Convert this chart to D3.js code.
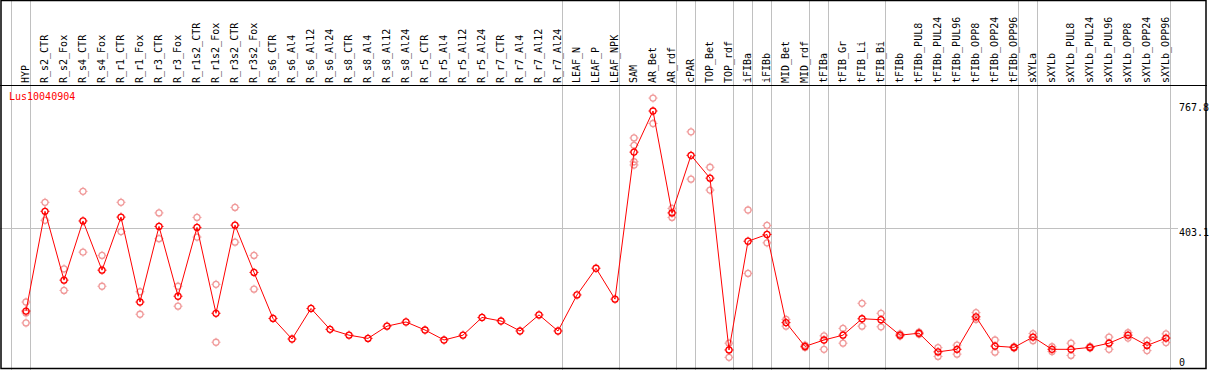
<!DOCTYPE html>
<html>
<head>
  <meta charset="utf-8">
  <title></title>
  <style type="text/css">
    body { margin: 0; background: #fff; }
    text { font-family: "DejaVu Sans Mono", monospace; font-size: 10px; }
  </style>
</head>
<body>
  <div id="my_dataviz"></div>
<script src="https://d3js.org/d3.v7.min.js"></script>
<script type="text/javascript">

  var gene = "Lus10040904";

  var samples = ["HYP","R_s2_CTR","R_s2_Fox","R_s4_CTR","R_s4_Fox","R_r1_CTR","R_r1_Fox","R_r3_CTR","R_r3_Fox",
    "R_r1s2_CTR","R_r1s2_Fox","R_r3s2_CTR","R_r3s2_Fox","R_s6_CTR","R_s6_Al4","R_s6_Al12","R_s6_Al24",
    "R_s8_CTR","R_s8_Al4","R_s8_Al12","R_s8_Al24","R_r5_CTR","R_r5_Al4","R_r5_Al12","R_r5_Al24",
    "R_r7_CTR","R_r7_Al4","R_r7_Al12","R_r7_Al24","LEAF_N","LEAF_P","LEAF_NPK","SAM","AR_Bet","AR_rdf",
    "cPAR","TOP_Bet","TOP_rdf","iFIBa","iFIBb","MID_Bet","MID_rdf","tFIBa","tFIB_Gr","tFIB_Li","tFIB_Bi",
    "tFIBb","tFIBb_PUL8","tFIBb_PUL24","tFIBb_PUL96","tFIBb_OPP8","tFIBb_OPP24","tFIBb_OPP96",
    "sXYLa","sXYLb","sXYLb_PUL8","sXYLb_PUL24","sXYLb_PUL96","sXYLb_OPP8","sXYLb_OPP24","sXYLb_OPP96"];

  // first sample of every group (a grey line is drawn before each)
  var groupStarts = ["HYP","R_s2_CTR","LEAF_N","SAM","cPAR","TOP_Bet","iFIBa","iFIBb","MID_Bet",
    "tFIBa","tFIB_Gr","tFIBb","sXYLa","sXYLb"];

  var means = [146,456,242,426,273,438,174,409,192,406,139,413,266,123,59,154,89,71,61,99,112,87,56,71,126,
    115,84,134,84,196,279,183,640,767.8,451,630,559,25,363,384,110,36,56,71,122,119,
    71,77,19,27,128,37,33,65,27,27,33,46,71,39,62];

  var reps = [[174,140,109],[484,428],[277,210],[518,329],[319,223],[484,393],[206,136],[451,371],[223,161],
    [437,376],[229,49],[468,360],[319,214],[],[],[],[],
    [],[],[],[],[],[],[],[],
    [],[],[],[],[],[],[],[684,661,610,600],[808,729],[465,437],
    [703,556],[593,522],[46,2],[460,263],[412,358],[120,99],[40,33],[69,27],[92,46],[170,99],[139,97],
    [68,75],[74,80],[32,5],[40,12],[141,120],[56,18],[31,35],
    [54,76],[35,20],[46,8],[31,36],[65,27],[79,62],[54,23],[75,48]];

  var yTicks = [0, 403.1, 767.8];

  var W = 1209, H = 370;

  var svg = d3.select("#my_dataviz")
    .append("svg")
      .attr("width", W)
      .attr("height", H);

  var x = d3.scaleBand()
    .domain(samples)
    .range([11.5, 11.5 + samples.length * 19]);

  function px(name) { return x(name) + 14.5; }

  var y = d3.scaleLinear()
    .domain([0, 767.8])
    .range([358, 111]);

  // grey vertical group lines, full height
  var vlines = groupStarts.map(function(s) { return x(s); });
  vlines.push(x.range()[1]);
  svg.append("g").selectAll("line")
    .data(vlines)
    .enter().append("line")
      .attr("x1", function(d) { return d; })
      .attr("x2", function(d) { return d; })
      .attr("y1", 0)
      .attr("y2", H)
      .attr("stroke", "#c0c0c0")
      .attr("stroke-width", 1);

  // horizontal gridline at middle tick
  svg.append("line")
    .attr("x1", 0).attr("x2", 1178)
    .attr("y1", Math.round(y(yTicks[1])) + 0.5)
    .attr("y2", Math.round(y(yTicks[1])) + 0.5)
    .attr("stroke", "#c0c0c0");

  // frame + header separator
  svg.append("rect")
    .attr("x", 1).attr("y", 0.5)
    .attr("width", 1205).attr("height", 368)
    .attr("fill", "none")
    .attr("stroke", "#000")
    .attr("stroke-width", 1.5);
  svg.append("line")
    .attr("x1", 0).attr("x2", 1207)
    .attr("y1", 85.5).attr("y2", 85.5)
    .attr("stroke", "#000");

  // header labels
  svg.append("g").selectAll("text")
    .data(samples)
    .enter().append("text")
      .attr("transform", function(d) { return "translate(" + (px(d) + 2.5) + ",83) rotate(-90)"; })
      .attr("fill", "#000")
      .text(function(d) { return d; });

  svg.append("text")
    .attr("x", 9).attr("y", 100)
    .attr("fill", "red")
    .text(gene);

  // right value labels
  svg.append("g").selectAll("text")
    .data(yTicks)
    .enter().append("text")
      .attr("x", 1179)
      .attr("y", function(d, i) {
        if (i == yTicks.length - 1) return y(d);
        if (i == 0) return 365.5;
        return y(d) + 8;
      })
      .attr("fill", "#000")
      .text(function(d) { return d; });

  function marker(g, color) {
    g.append("circle")
      .attr("r", 3)
      .attr("fill", "none")
      .attr("stroke", color)
      .attr("stroke-width", 1.3);
    g.append("path")
      .attr("d", "M0,-3V-4.5M0,3V4.5M-3,0H-4.5M3,0H4.5")
      .attr("stroke", color)
      .attr("stroke-width", 1);
  }

  // replicates
  var repPts = [];
  samples.forEach(function(s, i) {
    reps[i].forEach(function(v) { repPts.push({s: s, v: v}); });
  });
  svg.append("g").selectAll("g")
    .data(repPts)
    .enter().append("g")
      .attr("transform", function(d) { return "translate(" + px(d.s) + "," + y(d.v) + ")"; })
      .each(function() { marker(d3.select(this), "#f09a9a"); });

  // mean line
  var line = d3.line()
    .x(function(d, i) { return px(samples[i]); })
    .y(function(d) { return y(d); });
  svg.append("path")
    .datum(means)
    .attr("d", line)
    .attr("fill", "none")
    .attr("stroke", "red")
    .attr("stroke-width", 1);

  svg.append("g").selectAll("g")
    .data(means)
    .enter().append("g")
      .attr("transform", function(d, i) { return "translate(" + px(samples[i]) + "," + y(d) + ")"; })
      .each(function() { marker(d3.select(this), "red"); });

</script>
</body>
</html>
